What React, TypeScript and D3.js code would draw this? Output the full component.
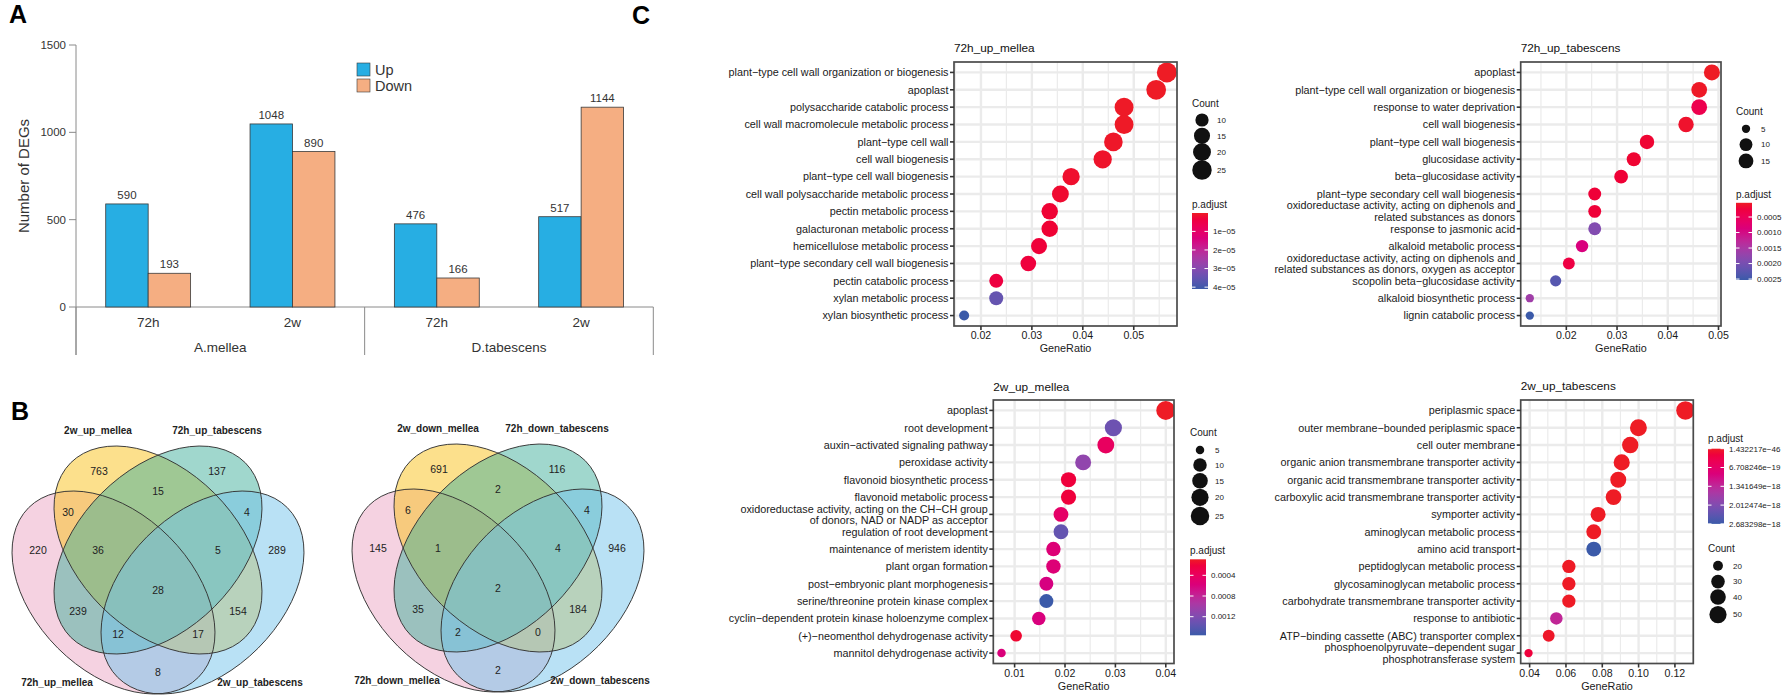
import * as d3 from 'd3';
import React from 'react';

const FONT = "'Liberation Sans', Arial, Helvetica, sans-serif";
const RED = '#ee1c25';
const BLUE = '#3b5aa9';
const ramp = d3.interpolateHcl(RED, BLUE);

// ---------- A: number of DEGs ----------
const timepoints = ['72h', '2w', '72h', '2w'];
const speciesNames = ['A.mellea', 'D.tabescens'];
const upDEGs = [590, 1048, 476, 517];
const downDEGs = [193, 890, 166, 1144];
const degTicks = [0, 500, 1000, 1500];

// ---------- B: Venn overlaps ----------
// A = 72h mellea, B = 2w mellea, C = 72h tabescens, D = 2w tabescens
const vennRegions = ['A', 'B', 'C', 'D', 'AB', 'BC', 'CD', 'AD', 'ABC', 'BCD', 'ABCD', 'AC', 'BD', 'ACD', 'ABD'];
const upOverlap = [220, 763, 137, 289, 30, 15, 4, 8, 36, 5, 28, 239, 154, 12, 17];
const downOverlap = [145, 691, 116, 946, 6, 2, 4, 2, 1, 4, 2, 35, 184, 2, 0];
const upSets = ['72h_up_mellea', '2w_up_mellea', '72h_up_tabescens', '2w_up_tabescens'];
const downSets = ['72h_down_mellea', '2w_down_mellea', '72h_down_tabescens', '2w_down_tabescens'];

// ---------- C: GO enrichment dot plots ----------
const mellea72Terms = [
  'plant−type cell wall organization or biogenesis', 'apoplast', 'polysaccharide catabolic process',
  'cell wall macromolecule metabolic process', 'plant−type cell wall', 'cell wall biogenesis',
  'plant−type cell wall biogenesis', 'cell wall polysaccharide metabolic process', 'pectin metabolic process',
  'galacturonan metabolic process', 'hemicellulose metabolic process', 'plant−type secondary cell wall biogenesis',
  'pectin catabolic process', 'xylan metabolic process', 'xylan biosynthetic process',
];
const mellea72Ratio = [0.0565, 0.0544, 0.0481, 0.0481, 0.046, 0.0439, 0.0377, 0.0356, 0.0335, 0.0335, 0.0314, 0.0293, 0.023, 0.023, 0.0167];
const mellea72Count = [27, 26, 23, 23, 22, 21, 18, 17, 16, 16, 15, 14, 11, 11, 8];
const mellea72Padj = [1.1e-7, 2e-7, 3.5e-7, 3.5e-7, 6e-7, 9e-7, 1.3e-6, 1.6e-6, 2.1e-6, 2.1e-6, 2.8e-6, 3.4e-6, 4e-6, 3.5e-5, 4.1e-5];

const tabescens72Terms = [
  'apoplast', 'plant−type cell wall organization or biogenesis', 'response to water deprivation',
  'cell wall biogenesis', 'plant−type cell wall biogenesis', 'glucosidase activity', 'beta−glucosidase activity',
  'plant−type secondary cell wall biogenesis',
  'oxidoreductase activity, acting on diphenols and\nrelated substances as donors',
  'response to jasmonic acid', 'alkaloid metabolic process',
  'oxidoreductase activity, acting on diphenols and\nrelated substances as donors, oxygen as acceptor',
  'scopolin beta−glucosidase activity', 'alkaloid biosynthetic process', 'lignin catabolic process',
];
const tabescens72Ratio = [0.0487, 0.0462, 0.0462, 0.0436, 0.0359, 0.0333, 0.0308, 0.0256, 0.0256, 0.0256, 0.0231, 0.0205, 0.0179, 0.0128, 0.0128];
const tabescens72Count = [19, 18, 18, 17, 14, 13, 12, 10, 10, 10, 9, 8, 7, 5, 5];
const tabescens72Padj = [4.2e-5, 6e-5, 0.0004, 1e-4, 1.5e-4, 1.5e-4, 1.8e-4, 2e-4, 2e-4, 0.0019, 0.0009, 0.0003, 0.0023, 0.0016, 0.00253];

const mellea2wTerms = [
  'apoplast', 'root development', 'auxin−activated signaling pathway', 'peroxidase activity',
  'flavonoid biosynthetic process', 'flavonoid metabolic process',
  'oxidoreductase activity, acting on the CH−CH group\nof donors, NAD or NADP as acceptor',
  'regulation of root development', 'maintenance of meristem identity', 'plant organ formation',
  'post−embryonic plant morphogenesis', 'serine/threonine protein kinase complex',
  'cyclin−dependent protein kinase holoenzyme complex', '(+)−neomenthol dehydrogenase activity',
  'mannitol dehydrogenase activity',
];
const mellea2wRatio = [0.04, 0.0296, 0.0281, 0.0236, 0.0207, 0.0207, 0.0192, 0.0192, 0.0177, 0.0177, 0.0163, 0.0163, 0.0148, 0.0103, 0.0074];
const mellea2wCount = [27, 20, 19, 16, 14, 14, 13, 13, 12, 12, 11, 11, 10, 7, 5];
const mellea2wPadj = [9e-5, 0.0013, 0.0004, 0.0011, 0.0002, 0.0002, 0.00045, 0.00135, 0.00055, 0.00055, 0.00062, 0.00156, 0.0006, 0.00015, 0.00058];

const tabescens2wTerms = [
  'periplasmic space', 'outer membrane−bounded periplasmic space', 'cell outer membrane',
  'organic anion transmembrane transporter activity', 'organic acid transmembrane transporter activity',
  'carboxylic acid transmembrane transporter activity', 'symporter activity', 'aminoglycan metabolic process',
  'amino acid transport', 'peptidoglycan metabolic process', 'glycosaminoglycan metabolic process',
  'carbohydrate transmembrane transporter activity', 'response to antibiotic',
  'ATP−binding cassette (ABC) transporter complex',
  'phosphoenolpyruvate−dependent sugar\nphosphotransferase system',
];
const tabescens2wRatio = [0.1258, 0.0999, 0.0954, 0.0907, 0.0888, 0.0862, 0.0777, 0.0753, 0.0753, 0.0616, 0.0616, 0.0616, 0.0547, 0.0505, 0.0394];
const tabescens2wCount = [60, 48, 45, 43, 42, 41, 37, 36, 36, 29, 29, 29, 26, 24, 19];
const tabescens2wPadj = [1.432217e-46, 3e-40, 5e-38, 2e-33, 6e-32, 1e-30, 4e-24, 2e-22, 2.683298e-18, 5e-21, 8e-21, 1e-20, 1.3e-18, 3e-20, 2e-19];

const mellea72Ticks = [0.02, 0.03, 0.04, 0.05];
const tabescens72Ticks = [0.02, 0.03, 0.04, 0.05];
const mellea2wTicks = [0.01, 0.02, 0.03, 0.04];
const tabescens2wTicks = [0.04, 0.06, 0.08, 0.1, 0.12];

const mellea72CountBreaks = [10, 15, 20, 25];
const tabescens72CountBreaks = [5, 10, 15];
const mellea2wCountBreaks = [5, 10, 15, 20, 25];
const tabescens2wCountBreaks = [20, 30, 40, 50];

const mellea72PBreaks = [1e-5, 2e-5, 3e-5, 4e-5];
const mellea72PLabels = ['1e−05', '2e−05', '3e−05', '4e−05'];
const tabescens72PBreaks = [0.0005, 0.001, 0.0015, 0.002, 0.0025];
const tabescens72PLabels = ['0.0005', '0.0010', '0.0015', '0.0020', '0.0025'];
const mellea2wPBreaks = [0.0004, 0.0008, 0.0012];
const mellea2wPLabels = ['0.0004', '0.0008', '0.0012'];
const tabescens2wPBreaks = [1.432217e-46, 6.708246e-19, 1.341649e-18, 2.012474e-18, 2.683298e-18];
const tabescens2wPLabels = ['1.432217e−46', '6.708246e−19', '1.341649e−18', '2.012474e−18', '2.683298e−18'];

// ---------- A ----------
function DegBars() {
  const x = d3.scaleBand<number>().domain(d3.range(timepoints.length)).range([76, 653.3]);
  const inner = d3.scaleBand<string>().domain(['Up', 'Down']).range([0, x.bandwidth()]).paddingOuter(0.7);
  const y = d3.scaleLinear().domain([0, 1500]).range([307, 45]);
  const fill: Record<string, string> = { Up: '#27aee3', Down: '#f5ae82' };
  const axis = '#8a8a8a';
  const seps = [x(0)!, x(2)!, x(3)! + x.bandwidth()];

  return (
    <g>
      <text x={9} y={23} fontSize={25} fontWeight="bold">A</text>
      <line x1={76} x2={76} y1={45} y2={355} stroke={axis} />
      <line x1={76} x2={seps[2]} y1={307} y2={307} stroke={axis} />
      {seps.map((s) => (
        <line key={s} x1={s} x2={s} y1={307} y2={355} stroke={axis} />
      ))}
      {degTicks.map((t) => (
        <g key={t}>
          <line x1={69} x2={76} y1={y(t)} y2={y(t)} stroke={axis} />
          <text x={66} y={y(t)} dy="0.35em" textAnchor="end" fontSize={11.5} fill="#333">{t}</text>
        </g>
      ))}
      <text transform={`translate(29,176) rotate(-90)`} textAnchor="middle" fontSize={15} fill="#333">Number of DEGs</text>
      {timepoints.map((tp, i) => {
        const vals: [string, number][] = [['Up', upDEGs[i]], ['Down', downDEGs[i]]];
        return (
          <g key={i}>
            {vals.map(([k, v]) => (
              <g key={k}>
                <rect x={x(i)! + inner(k)!} y={y(v)} width={inner.bandwidth()} height={y(0) - y(v)}
                  fill={fill[k]} stroke="#3a3a3a" strokeWidth={0.8} />
                <text x={x(i)! + inner(k)! + inner.bandwidth() / 2} y={y(v) - 5} textAnchor="middle" fontSize={11.5} fill="#333">{v}</text>
              </g>
            ))}
            <text x={x(i)! + x.bandwidth() / 2} y={327} textAnchor="middle" fontSize={13.5} fill="#333">{tp}</text>
          </g>
        );
      })}
      {speciesNames.map((s, i) => (
        <text key={s} x={(seps[i] + seps[i + 1]) / 2} y={352} textAnchor="middle" fontSize={13.5} fill="#333">{s}</text>
      ))}
      {['Up', 'Down'].map((k, i) => (
        <g key={k}>
          <rect x={357} y={63 + i * 16} width={13} height={13} fill={fill[k]} stroke="#3a3a3a" strokeWidth={0.6} />
          <text x={375} y={69.5 + i * 16} dy="0.35em" fontSize={14.5} fill="#333">{k}</text>
        </g>
      ))}
    </g>
  );
}

// ---------- B ----------
const ellipseSpecs = [
  { dx: -44.5, dy: 2.5, rx: 120, ry: 78.7, rot: 45, fill: '#eba5c3' },
  { dx: 0, dy: -40, rx: 123.4, ry: 80, rot: 45, fill: '#f9c119' },
  { dx: 0, dy: -40, rx: 123.4, ry: 80, rot: -45, fill: '#41af9b' },
  { dx: 44.5, dy: 2.5, rx: 120, ry: 78.7, rot: -45, fill: '#73c3eb' },
];
const regionOffsets: [number, number][] = [
  [-120, -40], [-59, -119], [59, -119], [119, -40], [-90, -78], [0, -99], [89, -78], [0, 82],
  [-60, -40], [60, -40], [0, 0], [-80, 21], [80, 21], [-40, 44], [40, 44],
];
const setLabelOffsets: [number, number][] = [[-101, 92], [-60, -160], [59, -160], [102, 92]];

function Venn({ cx, cy, sets, counts }: { cx: number; cy: number; sets: string[]; counts: number[] }) {
  return (
    <g>
      {ellipseSpecs.map((e, i) => (
        <ellipse key={`f${i}`} cx={cx + e.dx} cy={cy + e.dy} rx={e.rx} ry={e.ry}
          transform={`rotate(${e.rot} ${cx + e.dx} ${cy + e.dy})`} fill={e.fill} fillOpacity={0.5} />
      ))}
      {ellipseSpecs.map((e, i) => (
        <ellipse key={`s${i}`} cx={cx + e.dx} cy={cy + e.dy} rx={e.rx} ry={e.ry}
          transform={`rotate(${e.rot} ${cx + e.dx} ${cy + e.dy})`} fill="none" stroke="#333" strokeWidth={0.9} />
      ))}
      {vennRegions.map((r, i) => (
        <text key={r} x={cx + regionOffsets[i][0]} y={cy + regionOffsets[i][1]} dy="0.35em" textAnchor="middle" fontSize={10.5} fill="#222">{counts[i]}</text>
      ))}
      {sets.map((s, i) => (
        <text key={s} x={cx + setLabelOffsets[i][0]} y={cy + setLabelOffsets[i][1]} dy="0.35em" textAnchor="middle" fontSize={10} fontWeight="bold" fill="#222">{s}</text>
      ))}
    </g>
  );
}

// ---------- C ----------
interface DotProps {
  id: string;
  title: string;
  terms: string[];
  ratios: number[];
  counts: number[];
  padj: number[];
  xTicks: number[];
  box: [number, number, number, number];
  dot: [number, number];
  countBreaks: number[];
  pBreaks: number[];
  pLabels: string[];
  titleY: number;
  lx: number;
  countTitleY: number;
  countYs: number[];
  pTitleY: number;
  bar: [number, number];
}

function DotPanel(p: DotProps) {
  const [left, top, right, bottom] = p.box;
  const [rLo, rHi] = d3.extent(p.ratios) as [number, number];
  const pad = (rHi - rLo) * 0.05;
  const x = d3.scaleLinear().domain([rLo - pad, rHi + pad]).range([left, right]);
  const y = d3.scalePoint<number>().domain(d3.range(p.terms.length)).range([top, bottom]).padding(0.6);
  const [pLo, pHi] = d3.extent(p.padj) as [number, number];
  const color = d3.scaleLinear<string>().domain([pLo, pHi]).range([RED, BLUE]).interpolate(d3.interpolateHcl).clamp(true);
  const [cLo, cHi] = d3.extent(p.counts) as [number, number];
  const diam = (c: number) => p.dot[0] + (p.dot[1] - p.dot[0]) * Math.sqrt(Math.max(0, (c - cLo) / (cHi - cLo)));
  const step = p.xTicks[1] - p.xTicks[0];
  const [d0, d1] = x.domain();
  const minor = d3.range(p.xTicks.length + 1).map((i) => p.xTicks[0] - step / 2 + i * step).filter((v) => v > d0 && v < d1);
  const barY = d3.scaleLinear().domain([pLo, pHi]).range(p.bar);
  const xMid = (left + right) / 2;
  const stops = d3.range(13).map((i) => i / 12);

  return (
    <g>
      <defs>
        <clipPath id={`clip-${p.id}`}>
          <rect x={left} y={top} width={right - left} height={bottom - top} />
        </clipPath>
        <linearGradient id={`grad-${p.id}`} x1="0" y1="0" x2="0" y2="1">
          {stops.map((s) => (
            <stop key={s} offset={s} stopColor={ramp(s)} />
          ))}
        </linearGradient>
      </defs>
      <text x={left} y={p.titleY} fontSize={11.8} fill="#111">{p.title}</text>
      <rect x={left} y={top} width={right - left} height={bottom - top} fill="#fff" />
      {minor.map((v) => (
        <line key={`m${v}`} x1={x(v)} x2={x(v)} y1={top} y2={bottom} stroke="#ebebeb" strokeWidth={1.2} />
      ))}
      {p.xTicks.map((v) => (
        <line key={`M${v}`} x1={x(v)} x2={x(v)} y1={top} y2={bottom} stroke="#ebebeb" strokeWidth={2.4} />
      ))}
      {p.terms.map((_, i) => (
        <line key={`h${i}`} x1={left} x2={right} y1={y(i)} y2={y(i)} stroke="#ebebeb" strokeWidth={2.4} />
      ))}
      <g clipPath={`url(#clip-${p.id})`}>
        {p.terms.map((t, i) => (
          <circle key={t} cx={x(p.ratios[i])} cy={y(i)} r={diam(p.counts[i]) / 2} fill={color(p.padj[i])} />
        ))}
      </g>
      <rect x={left} y={top} width={right - left} height={bottom - top} fill="none" stroke="#4a4a4a" strokeWidth={1.7} />
      {p.terms.map((t, i) => {
        const lines = t.split('\n');
        return (
          <g key={`y${i}`}>
            <line x1={left - 4} x2={left} y1={y(i)} y2={y(i)} stroke="#333" strokeWidth={1.6} />
            {lines.map((ln, j) => (
              <text key={j} x={left - 5.5} y={y(i)! + (j - (lines.length - 1) / 2) * 11.3} dy="0.35em"
                textAnchor="end" fontSize={10.8} fill="#1a1a1a">{ln}</text>
            ))}
          </g>
        );
      })}
      {p.xTicks.map((v) => (
        <g key={`xt${v}`}>
          <line x1={x(v)} x2={x(v)} y1={bottom} y2={bottom + 4} stroke="#333" strokeWidth={1.6} />
          <text x={x(v)} y={bottom + 13} textAnchor="middle" fontSize={10.6} fill="#1a1a1a">{d3.format('.2f')(v)}</text>
        </g>
      ))}
      <text x={xMid} y={bottom + 26} textAnchor="middle" fontSize={10.8} fill="#1a1a1a">GeneRatio</text>

      <text x={p.lx} y={p.countTitleY} dy="0.35em" fontSize={10} fill="#1a1a1a">Count</text>
      {p.countBreaks.map((c, i) => (
        <g key={`c${c}`}>
          <circle cx={p.lx + 10} cy={p.countYs[i]} r={diam(c) / 2} fill="#111" />
          <text x={p.lx + 25} y={p.countYs[i]} dy="0.35em" fontSize={8} fill="#1a1a1a">{c}</text>
        </g>
      ))}
      <text x={p.lx} y={p.pTitleY} dy="0.35em" fontSize={10} fill="#1a1a1a">p.adjust</text>
      <rect x={p.lx} y={p.bar[0]} width={16} height={p.bar[1] - p.bar[0]} fill={`url(#grad-${p.id})`} />
      {p.pBreaks.map((b, i) => (
        <g key={`p${i}`}>
          <line x1={p.lx} x2={p.lx + 3.5} y1={barY(b)} y2={barY(b)} stroke="#fff" strokeWidth={1} />
          <line x1={p.lx + 12.5} x2={p.lx + 16} y1={barY(b)} y2={barY(b)} stroke="#fff" strokeWidth={1} />
          <text x={p.lx + 21} y={barY(b)} dy="0.35em" fontSize={8} fill="#1a1a1a">{p.pLabels[i]}</text>
        </g>
      ))}
    </g>
  );
}

export default function App() {
  return (
    <svg width={1792} height={699} viewBox="0 0 1792 699" fontFamily={FONT}
      style={{ position: 'absolute', left: 0, top: 0, background: '#fff' }}>
      <DegBars />
      <text x={11} y={420} fontSize={25} fontWeight="bold">B</text>
      <Venn cx={158} cy={590} sets={upSets} counts={upOverlap} />
      <Venn cx={498} cy={588} sets={downSets} counts={downOverlap} />
      <text x={632} y={24} fontSize={25} fontWeight="bold">C</text>
      <DotPanel id="m72" title="72h_up_mellea" terms={mellea72Terms} ratios={mellea72Ratio} counts={mellea72Count}
        padj={mellea72Padj} xTicks={mellea72Ticks} box={[954, 62, 1177, 326]} dot={[10, 20]}
        countBreaks={mellea72CountBreaks} pBreaks={mellea72PBreaks} pLabels={mellea72PLabels} titleY={52}
        lx={1192} countTitleY={103} countYs={[120, 135.7, 152, 170]} pTitleY={204} bar={[213, 289]} />
      <DotPanel id="t72" title="72h_up_tabescens" terms={tabescens72Terms} ratios={tabescens72Ratio} counts={tabescens72Count}
        padj={tabescens72Padj} xTicks={tabescens72Ticks} box={[1520.7, 62, 1721, 326]} dot={[8.3, 16]}
        countBreaks={tabescens72CountBreaks} pBreaks={tabescens72PBreaks} pLabels={tabescens72PLabels} titleY={52}
        lx={1736} countTitleY={111} countYs={[128.8, 144.6, 160.9]} pTitleY={194.6} bar={[202.8, 280]} />
      <DotPanel id="m2w" title="2w_up_mellea" terms={mellea2wTerms} ratios={mellea2wRatio} counts={mellea2wCount}
        padj={mellea2wPadj} xTicks={mellea2wTicks} box={[993.3, 400, 1174, 663.5]} dot={[8.5, 19]}
        countBreaks={mellea2wCountBreaks} pBreaks={mellea2wPBreaks} pLabels={mellea2wPLabels} titleY={391}
        lx={1190} countTitleY={432.7} countYs={[450, 465, 480.7, 497.3, 516]} pTitleY={550} bar={[559.3, 635.3]} />
      <DotPanel id="t2w" title="2w_up_tabescens" terms={tabescens2wTerms} ratios={tabescens2wRatio} counts={tabescens2wCount}
        padj={tabescens2wPadj} xTicks={tabescens2wTicks} box={[1520.7, 400, 1693.3, 663.5]} dot={[8.3, 18.5]}
        countBreaks={tabescens2wCountBreaks} pBreaks={tabescens2wPBreaks} pLabels={tabescens2wPLabels} titleY={390}
        lx={1708} countTitleY={548.3} countYs={[565.8, 581.6, 597, 614.6]} pTitleY={438.5} bar={[448.7, 523.9]} />
    </svg>
  );
}
